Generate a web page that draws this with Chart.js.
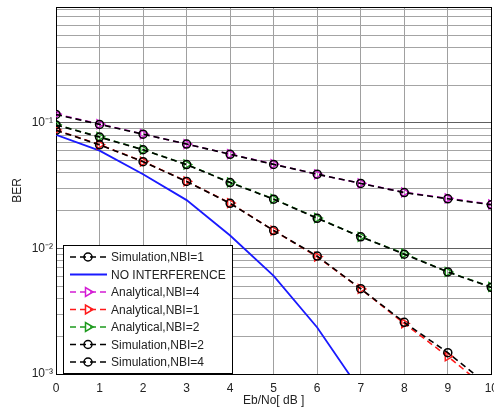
<!DOCTYPE html>
<html lang="en">
<head>
    <meta charset="UTF-8">
    <title>BER vs Eb/No with NBI</title>
    <script src="https://cdn.jsdelivr.net/npm/chart.js"></script>
    <style>
        html, body {
            margin: 0;
            padding: 0;
            background: #fff;
            overflow: hidden;
        }
        .wrap {
            width: 505px;
            height: 414px;
        }
    </style>
</head>
<body>
    <div class="wrap">
        <canvas id="berChart" width="505" height="414"></canvas>
    </div>

    <script>
        // Eb/No in dB
        const ebNo = [0, 1, 2, 3, 4, 5, 6, 7, 8, 9, 10];

        // BER values
        const simNbi1 = [0.0875, 0.067, 0.0492, 0.0342, 0.0229, 0.0139, 0.0087, 0.00478, 0.00258, 0.00148, 0.00078];
        const noInterference = [0.0805, 0.0602, 0.039, 0.0243, 0.0127, 0.00605, 0.00235, 0.00073, null, null, null];
        const anaNbi4 = [0.118, 0.098, 0.0817, 0.0679, 0.0565, 0.047, 0.039, 0.0331, 0.028, 0.0251, 0.0225];
        const anaNbi1 = [0.088, 0.0672, 0.0493, 0.0343, 0.023, 0.0139, 0.0086, 0.00476, 0.00253, 0.00138, 0.00072];
        const anaNbi2 = [0.097, 0.0776, 0.0613, 0.0467, 0.0337, 0.0248, 0.0175, 0.0124, 0.0091, 0.0065, 0.00494];
        const simNbi2 = [0.0965, 0.0772, 0.0612, 0.0466, 0.0335, 0.0247, 0.0174, 0.0124, 0.0090, 0.0065, 0.0049];
        const simNbi4 = [0.117, 0.0975, 0.0815, 0.068, 0.0563, 0.0468, 0.0391, 0.033, 0.0279, 0.0249, 0.0223];

        // y axis: labelled decades + minor grid mantissas
        const yDecades = [0.001, 0.01, 0.1];
        const yDecadeLabels = ['10⁻³', '10⁻²', '10⁻¹'];
        const yMantissas = [1, 2, 3, 4, 5, 6, 7, 8, 9];

        const toPoints = arr => ebNo.map((x, i) => ({ x: x, y: arr[i] }));

        const dashed = [6, 4];
        const fontFamily = "'Liberation Sans', Arial, sans-serif";

        function simDataset(label, values) {
            return {
                label: label,
                data: toPoints(values),
                borderColor: '#000',
                borderWidth: 1.6,
                borderDash: dashed,
                pointStyle: 'circle',
                pointRadius: 4,
                pointBorderWidth: 1.5,
                pointBorderColor: '#000',
                pointBackgroundColor: 'rgba(0,0,0,0)',
                order: 0
            };
        }

        function anaDataset(label, values, color) {
            return {
                label: label,
                data: toPoints(values),
                borderColor: color,
                borderWidth: 1.6,
                borderDash: dashed,
                pointStyle: 'triangle',
                pointRotation: 90,
                pointRadius: 5,
                pointBorderWidth: 1.5,
                pointBorderColor: color,
                pointBackgroundColor: 'rgba(0,0,0,0)',
                order: 1
            };
        }

        // datasets listed in legend order
        const datasets = [
            simDataset('Simulation,NBI=1', simNbi1),
            {
                label: 'NO INTERFERENCE',
                data: toPoints(noInterference),
                borderColor: '#1a1aff',
                borderWidth: 1.8,
                pointRadius: 0,
                spanGaps: false,
                order: 2
            },
            anaDataset('Analytical,NBI=4', anaNbi4, '#d41cd4'),
            anaDataset('Analytical,NBI=1', anaNbi1, '#ff1a1a'),
            anaDataset('Analytical,NBI=2', anaNbi2, '#1e9a1e'),
            simDataset('Simulation,NBI=2', simNbi2),
            simDataset('Simulation,NBI=4', simNbi4)
        ];

        // black box round the plot area
        const frame = {
            id: 'frame',
            beforeDatasetsDraw(chart) {
                const a = chart.chartArea;
                const ctx = chart.ctx;
                ctx.save();
                ctx.strokeStyle = '#000';
                ctx.lineWidth = 1;
                ctx.strokeRect(Math.round(a.left) + 0.5, Math.round(a.top) + 0.5,
                    Math.round(a.right - a.left), Math.round(a.bottom - a.top));
                ctx.restore();
            }
        };

        function drawMarker(ctx, ds, x, y) {
            if (!ds.pointRadius) return;
            ctx.save();
            ctx.setLineDash([]);
            ctx.strokeStyle = ds.pointBorderColor;
            ctx.lineWidth = ds.pointBorderWidth;
            ctx.beginPath();
            if (ds.pointStyle === 'circle') {
                ctx.arc(x, y, ds.pointRadius, 0, Math.PI * 2);
            } else {
                const r = ds.pointRadius;
                ctx.moveTo(x + r, y);
                ctx.lineTo(x - r * 0.5, y - r * 0.87);
                ctx.lineTo(x - r * 0.5, y + r * 0.87);
                ctx.closePath();
            }
            ctx.stroke();
            ctx.restore();
        }

        // legend box inside the lower-left corner, like the MATLAB figure
        const boxLegend = {
            id: 'boxLegend',
            afterDatasetsDraw(chart) {
                const ctx = chart.ctx;
                const a = chart.chartArea;
                const left = a.left + 7;
                const top = a.bottom - 129;
                const w = 169, h = 128;
                const rowH = 17.5;
                ctx.save();
                ctx.fillStyle = '#fff';
                ctx.fillRect(left, top, w, h);
                ctx.strokeStyle = '#000';
                ctx.lineWidth = 1;
                ctx.strokeRect(left + 0.5, top + 0.5, w, h);
                ctx.font = '12px ' + fontFamily;
                ctx.textBaseline = 'middle';
                chart.data.datasets.forEach((ds, i) => {
                    const y = top + 12 + i * rowH;
                    ctx.save();
                    ctx.strokeStyle = ds.borderColor;
                    ctx.lineWidth = ds.borderWidth;
                    ctx.setLineDash(ds.borderDash || []);
                    ctx.beginPath();
                    ctx.moveTo(left + 7, y);
                    ctx.lineTo(left + 44, y);
                    ctx.stroke();
                    ctx.restore();
                    drawMarker(ctx, ds, left + 25, y);
                    ctx.fillStyle = '#222';
                    ctx.fillText(ds.label, left + 48, y + 1);
                });
                ctx.restore();
            }
        };

        const ctx = document.getElementById('berChart').getContext('2d');

        new Chart(ctx, {
            type: 'line',
            data: { datasets: datasets },
            options: {
                responsive: false,
                animation: false,
                layout: {
                    padding: { top: 7, right: 10, bottom: 0, left: 0 }
                },
                plugins: {
                    legend: { display: false },
                    tooltip: { enabled: false }
                },
                scales: {
                    x: {
                        type: 'linear',
                        min: 0,
                        max: 10,
                        grid: {
                            color: '#a0a0a0',
                            drawTicks: false
                        },
                        border: { display: false },
                        ticks: {
                            stepSize: 1,
                            padding: 7,
                            color: '#222',
                            font: { family: fontFamily, size: 12 }
                        },
                        title: {
                            display: true,
                            text: 'Eb/No[ dB ]',
                            color: '#222',
                            font: { family: fontFamily, size: 12 },
                            padding: { top: 2, bottom: 6 }
                        },
                        afterFit(scale) {
                            scale.height = 40;
                        }
                    },
                    y: {
                        type: 'logarithmic',
                        min: 0.001,
                        max: 0.84,
                        grid: {
                            drawTicks: false,
                            color: c => yDecades.includes(c.tick && c.tick.value) ? '#606060' : '#a4a4a4'
                        },
                        border: { display: false },
                        afterBuildTicks(scale) {
                            const ticks = [];
                            yDecades.forEach(d => {
                                yMantissas.forEach(m => {
                                    const v = +(d * m).toPrecision(3);
                                    if (v <= 0.8) ticks.push({ value: v });
                                });
                            });
                            scale.ticks = ticks;
                        },
                        ticks: {
                            autoSkip: false,
                            padding: 3,
                            color: '#222',
                            font: { family: fontFamily, size: 12 },
                            callback: v => {
                                const i = yDecades.indexOf(v);
                                return i >= 0 ? yDecadeLabels[i] : '';
                            }
                        },
                        title: {
                            display: true,
                            text: 'BER',
                            color: '#222',
                            font: { family: fontFamily, size: 12 },
                            padding: { top: 10, bottom: 0 }
                        },
                        afterFit(scale) {
                            scale.width = 56;
                            scale.paddingTop = 0;
                        }
                    }
                }
            },
            plugins: [frame, boxLegend]
        });
    </script>
</body>
</html>
